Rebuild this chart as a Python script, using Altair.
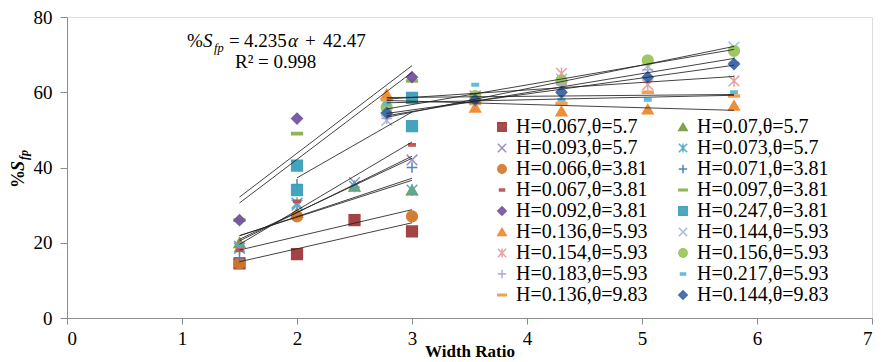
import altair as alt
import pandas as pd

# Series names (legend order, read row by row)
series_names = [
    "H=0.067,θ=5.7", "H=0.07,θ=5.7",
    "H=0.093,θ=5.7", "H=0.073,θ=5.7",
    "H=0.066,θ=3.81", "H=0.071,θ=3.81",
    "H=0.067,θ=3.81", "H=0.097,θ=3.81",
    "H=0.092,θ=3.81", "H=0.247,θ=3.81",
    "H=0.136,θ=5.93", "H=0.144,θ=5.93",
    "H=0.154,θ=5.93", "H=0.156,θ=5.93",
    "H=0.183,θ=5.93", "H=0.217,θ=5.93",
    "H=0.136,θ=9.83", "H=0.144,θ=9.83",
]

# Width ratios tested
x_narrow4 = [1.5, 2.0, 2.5, 3.0]
x_narrow3 = [1.5, 2.0, 3.0]
x_square = [2.0, 2.0, 3.0, 3.0]
x_wide = [2.78, 3.55, 4.3, 5.05, 5.8]

# %Sfp values per series
s01 = [14.5, 17.0, 26.0, 23.0]
s02 = [20.0, 28.0, 35.0, 34.0]
s03 = [19.0, 30.0, 36.0, 42.0]
s04 = [18.5, 30.5, 35.0, 34.0]
s05 = [14.5, 27.0, 27.0]
s06 = [16.0, 35.5, 40.0]
s07 = [18.0, 31.0, 46.0]
s08 = [26.0, 49.0, 63.0]
s09 = [26.0, 53.0, 64.0]
s10 = [40.5, 34.0, 58.5, 51.0]
s11 = [59.5, 56.0, 55.0, 55.5, 56.5]
s12 = [52.5, 59.0, 63.5, 67.0, 72.0]
s13 = [57.0, 59.0, 65.0, 62.0, 63.0]
s14 = [56.0, 59.0, 63.0, 68.5, 71.0]
s15 = [53.0, 58.0, 62.0, 66.0, 68.0]
s16 = [57.0, 62.0, 58.0, 58.0, 60.0]
s17 = [58.0, 57.0, 57.0, 60.0, 59.0]
s18 = [54.5, 58.0, 60.0, 64.0, 67.5]

series_x = [x_narrow4, x_narrow4, x_narrow4, x_narrow4,
            x_narrow3, x_narrow3, x_narrow3, x_narrow3, x_narrow3, x_square,
            x_wide, x_wide, x_wide, x_wide, x_wide, x_wide, x_wide, x_wide]
series_y = [s01, s02, s03, s04, s05, s06, s07, s08, s09, s10,
            s11, s12, s13, s14, s15, s16, s17, s18]

colors = [
    "#A0393A", "#7A9A3A", "#9A88C2", "#4BACC6",
    "#D4772A", "#4A7EBB", "#C0504D", "#8DB04C",
    "#7554A0", "#3AA0BA", "#EE8A2E", "#9FBBE0",
    "#E69C9A", "#98C65A", "#B3A2D0", "#5BB8D4",
    "#F29A4A", "#3C66A8",
]

X_SHAPE = "M-1,-1L1,1M-1,1L1,-1"
STAR_SHAPE = "M-1,-1L1,1M-1,1L1,-1M0,-1.1L0,1.1"
PLUS_SHAPE = "M-1,0L1,0M0,-1L0,1"
SHORT_DASH = "M-0.6,-0.22H0.6V0.22H-0.6Z"
LONG_DASH = "M-1,-0.2H1V0.2H-1Z"

shapes = [
    "square", "triangle-up", X_SHAPE, STAR_SHAPE,
    "circle", PLUS_SHAPE, SHORT_DASH, LONG_DASH,
    "diamond", "square", "triangle-up", X_SHAPE,
    STAR_SHAPE, "circle", PLUS_SHAPE, SHORT_DASH,
    LONG_DASH, "diamond",
]

rows = []
for name, xs, ys in zip(series_names, series_x, series_y):
    for xv, yv in zip(xs, ys):
        rows.append({"series": name, "ratio": xv, "sfp": yv})
df = pd.DataFrame(rows)

FONT = "Liberation Serif"

legend = alt.Legend(
    title=None, orient="none", legendX=425, legendY=100, columns=2,
    direction="horizontal",
    columnPadding=25, rowPadding=1, symbolSize=70, symbolStrokeWidth=1.5,
    labelFont=FONT, labelFontSize=20, labelColor="black", labelOffset=4,
    labelLimit=300, padding=0,
)

x_axis = alt.Axis(
    values=list(range(0, 8)), format="d", title="Width Ratio",
    titleFont=FONT, titleFontSize=17, titleFontWeight="bold", titleColor="black",
    titleY=38, titleBaseline="alphabetic",
    labelFont=FONT, labelFontSize=19, labelColor="black", labelPadding=5,
    tickSize=6, tickColor="#8c8c8c", domainColor="#8c8c8c", grid=False,
)
y_axis = alt.Axis(
    values=list(range(0, 81, 10)), title=None,
    labelFont=FONT, labelFontSize=19, labelColor="black", labelPadding=8,
    tickSize=7, tickColor="#8c8c8c", domainColor="#8c8c8c", grid=False,
)

x_enc = alt.X("ratio:Q", scale=alt.Scale(domain=[0, 7], nice=False), axis=x_axis)
y_enc = alt.Y("sfp:Q", scale=alt.Scale(domain=[0, 80], nice=False), axis=y_axis)

points = alt.Chart(df).mark_point(filled=True, size=115, strokeWidth=1.5, opacity=0.95).encode(
    x=x_enc,
    y=y_enc,
    fill=alt.Fill("series:N", scale=alt.Scale(domain=series_names, range=colors), legend=legend),
    stroke=alt.Stroke("series:N", scale=alt.Scale(domain=series_names, range=colors), legend=legend),
    shape=alt.Shape("series:N", scale=alt.Scale(domain=series_names, range=shapes), legend=legend),
)

# Linear trendline for every series
trend = alt.Chart(df).transform_regression(
    "ratio", "sfp", groupby=["series"]
).mark_line(color="#222222", strokeWidth=1, opacity=0.85).encode(
    x="ratio:Q", y="sfp:Q", detail="series:N"
)


def label(text, px, py, size, style="normal", weight="normal", angle=0):
    return alt.Chart(alt.Data(values=[{"t": text}])).mark_text(
        align="left", baseline="alphabetic", font=FONT, fontSize=size,
        fontStyle=style, fontWeight=weight, angle=angle, color="black",
    ).encode(x=alt.value(px), y=alt.value(py), text="t:N")


annotations = [
    # trendline equation
    label("%", 120, 30, 19),
    label("S", 136, 30, 19, style="italic"),
    label("fp", 147, 35, 12.5, style="italic"),
    label("=", 162, 30, 19),
    label("4.235", 177, 30, 19),
    label("α", 221, 30, 19, style="italic"),
    label("+", 238, 30, 19),
    label("42.47", 256, 30, 19),
    label("R² = 0.998", 168, 51, 19),
    # y-axis title
    label("%", -43, 171, 18, weight="bold", angle=270),
    label("S", -43, 154, 18, style="italic", weight="bold", angle=270),
    label("fp", -39, 143, 12, style="italic", weight="bold", angle=270),
]

chart = alt.layer(points, trend, *annotations).properties(
    width=805, height=301,
    autosize=alt.AutoSizeParams(type="none"),
    padding={"left": 67, "top": 17, "right": 10, "bottom": 44},
).configure_view(
    stroke="#8c8c8c", strokeWidth=1
).configure(background="white", font=FONT)

chart.save("out.html", embed_options={"renderer": "svg", "actions": False})
